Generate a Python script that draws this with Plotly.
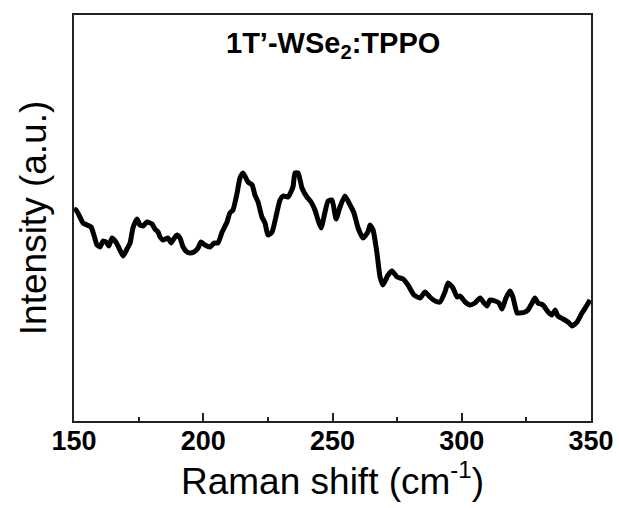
import plotly.graph_objects as go

raman_shift = [150.0, 150.8, 151.9, 153.5, 155.0, 156.6, 157.7, 158.9, 160.1, 161.2, 162.4, 163.5, 164.7,
               166.2, 167.4, 169.0, 170.5, 171.7, 172.8, 174.4, 175.5, 176.7, 178.2, 180.2, 181.3,
               182.5, 183.3, 184.4, 186.4, 187.5, 188.3, 189.8, 191.0, 192.2, 193.7, 194.9, 196.4,
               198.0, 199.1, 200.7, 202.6, 204.2, 205.7, 207.3, 209.2, 210.3, 211.5, 213.1, 214.2,
               215.4, 217.3, 218.9, 220.0, 221.2, 222.7, 223.9, 225.0, 226.6, 228.1, 229.7, 230.9,
               232.8, 234.7, 235.5, 236.7, 238.2, 240.1, 241.7, 243.2, 244.4, 245.6, 247.1, 248.3,
               249.8, 251.4, 252.9, 254.8, 256.8, 258.3, 259.9, 261.8, 263.7, 264.5, 265.7, 267.2,
               268.4, 269.5, 271.5, 273.0, 275.0, 277.3, 279.2, 281.5, 283.9, 285.8, 287.7, 289.7,
               291.6, 293.5, 294.7, 296.6, 298.2, 299.3, 301.3, 303.2, 305.1, 307.1, 308.6, 309.8,
               310.9, 312.9, 314.4, 315.6, 317.1, 318.7, 319.8, 321.4, 322.5, 324.5, 325.6, 327.2,
               328.3, 329.5, 331.4, 333.4, 334.9, 336.1, 337.2, 339.2, 341.1, 342.7, 344.6, 346.5,
               348.5, 349.6]
intensity = [212, 211, 206, 198, 196, 194, 186, 176, 174, 180, 179, 175, 183,
             179, 173, 165, 172, 178, 193, 202, 196, 195, 199, 197, 192,
             189, 184, 181, 183, 178, 181, 186, 183, 174, 169, 168, 169,
             173, 179, 176, 174, 178, 178, 189, 199, 208, 211, 228, 243,
             248, 239, 236, 226, 219, 204, 198, 186, 189, 204, 221, 225,
             224, 234, 248, 248, 233, 224, 219, 211, 201, 193, 209, 220,
             221, 202, 214, 225, 216, 208, 193, 183, 189, 196, 191, 168,
             144, 136, 146, 150, 144, 142, 136, 126, 123, 129, 124, 120,
             119, 129, 138, 133, 124, 125, 119, 116, 118, 123, 118, 115,
             121, 120, 118, 112, 123, 130, 124, 108, 108, 109, 111, 118,
             123, 118, 116, 109, 106, 111, 105, 102, 99, 95, 99, 108,
             116, 121]

x_ticks = [150, 200, 250, 300, 350]
title_text = "1T’-WSe<sub>2</sub>:TPPO"
x_title = "Raman shift (cm<sup><span style='font-size:24px'>-1</span></sup>)"
y_title = "Intensity (a.u.)"

font_family = "Liberation Sans, Arial, sans-serif"

fig = go.Figure()
fig.add_trace(go.Scatter(
    x=raman_shift, y=intensity, mode="lines",
    line=dict(color="black", width=5, shape="spline", smoothing=0.5),
    showlegend=False, hoverinfo="skip"))

fig.add_annotation(
    text="<b>" + title_text + "</b>", x=0.5, y=0.926, xref="paper", yref="paper",
    xanchor="center", yanchor="middle",
    showarrow=False, font=dict(family=font_family, size=29, color="black"))

fig.add_annotation(
    text=x_title, x=0.5, y=-0.142, xref="paper", yref="paper",
    xanchor="center", yanchor="middle",
    showarrow=False, font=dict(family=font_family, size=37, color="black"))

fig.add_annotation(
    text=y_title, x=-0.079, y=0.5, xref="paper", yref="paper", textangle=-90,
    xanchor="center", yanchor="middle",
    showarrow=False, font=dict(family=font_family, size=37, color="black"))

fig.update_layout(
    width=619, height=508,
    margin=dict(l=74, r=28, t=15, b=87, autoexpand=False),
    plot_bgcolor="white", paper_bgcolor="white",
    font=dict(family=font_family, color="black"),
    xaxis=dict(
        range=[150, 350], tickvals=x_ticks, ticktext=[str(v) for v in x_ticks],
        ticks="inside", ticklen=8, tickwidth=1.5, tickcolor="#222",
        minor=dict(dtick=25, tick0=150, ticks="inside", ticklen=4, tickwidth=1.5, tickcolor="#222"),
        showline=True, linecolor="#222", linewidth=1.5, mirror=True,
        showgrid=False, zeroline=False, automargin=False,
        ticklabelstandoff=-5,
        tickfont=dict(family=font_family, size=27, color="black", weight="bold"),
    ),
    yaxis=dict(
        range=[0, 406], showticklabels=False, ticks="",
        showline=True, linecolor="#222", linewidth=1.5, mirror=True,
        showgrid=False, zeroline=False, automargin=False,
    ),
)

fig.write_html("out.html")
